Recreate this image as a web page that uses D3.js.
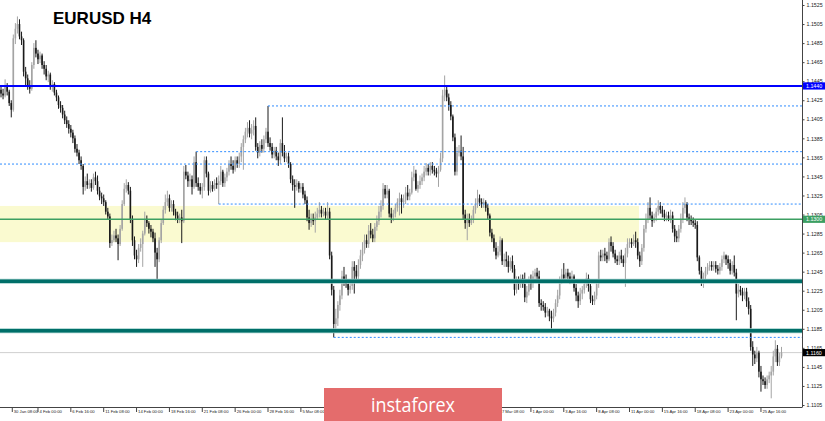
<!DOCTYPE html>
<html><head><meta charset="utf-8">
<script src="https://cdn.jsdelivr.net/npm/d3@7"></script>
<style>html,body{margin:0;padding:0;background:#fff;overflow:hidden}svg{display:block}</style>
</head><body><svg id="c" width="825" height="421"></svg>
<script>
const title = "EURUSD H4";
const opens = [1.1436,1.1432,1.1430,1.1440,1.1434,1.1422,1.1415,1.1490,1.1500,1.1505,
1.1492,1.1488,1.1455,1.1448,1.1440,1.1437,1.1462,1.1480,1.1474,1.1468,
1.1472,1.1462,1.1458,1.1450,1.1452,1.1440,1.1442,1.1433,1.1428,1.1420,
1.1417,1.1410,1.1404,1.1400,1.1395,1.1391,1.1385,1.1374,1.1370,1.1362,
1.1356,1.1334,1.1340,1.1336,1.1338,1.1333,1.1344,1.1340,1.1330,1.1324,
1.1322,1.1318,1.1308,1.1303,1.1275,1.1278,1.1283,1.1280,1.1274,1.1290,
1.1316,1.1332,1.1336,1.1330,1.1300,1.1278,1.1262,1.1258,1.1270,1.1274,
1.1285,1.1300,1.1296,1.1290,1.1287,1.1280,1.1265,1.1258,1.1278,1.1296,
1.1310,1.1318,1.1322,1.1312,1.1316,1.1308,1.1304,1.1300,1.1302,1.1298,
1.1350,1.1346,1.1340,1.1342,1.1334,1.1360,1.1338,1.1334,1.1330,1.1334,
1.1362,1.1348,1.1330,1.1336,1.1332,1.1338,1.1336,1.1340,1.1350,1.1338,
1.1344,1.1350,1.1358,1.1356,1.1352,1.1362,1.1358,1.1366,1.1376,1.1384,
1.1392,1.1396,1.1390,1.1394,1.1398,1.1376,1.1370,1.1378,1.1374,1.1384,
1.1392,1.1380,1.1376,1.1368,1.1372,1.1366,1.1362,1.1380,1.1370,1.1364,
1.1366,1.1358,1.1342,1.1336,1.1334,1.1338,1.1332,1.1334,1.1326,1.1320,
1.1302,1.1296,1.1300,1.1298,1.1302,1.1306,1.1310,1.1306,1.1308,1.1304,
1.1308,1.1262,1.1226,1.1190,1.1196,1.1210,1.1220,1.1240,1.1236,1.1232,
1.1226,1.1230,1.1250,1.1246,1.1240,1.1252,1.1262,1.1268,1.1278,1.1274,
1.1288,1.1284,1.1280,1.1292,1.1298,1.1308,1.1314,1.1332,1.1326,1.1330,
1.1306,1.1302,1.1306,1.1312,1.1318,1.1322,1.1318,1.1320,1.1328,1.1324,
1.1328,1.1344,1.1348,1.1332,1.1336,1.1340,1.1344,1.1350,1.1354,1.1350,
1.1356,1.1352,1.1350,1.1348,1.1352,1.1364,1.1430,1.1436,1.1428,1.1420,
1.1408,1.1386,1.1350,1.1370,1.1372,1.1366,1.1305,1.1296,1.1300,1.1296,
1.1300,1.1310,1.1316,1.1322,1.1318,1.1316,1.1318,1.1312,1.1304,1.1286,
1.1280,1.1270,1.1262,1.1266,1.1278,1.1256,1.1258,1.1256,1.1250,1.1256,
1.1248,1.1226,1.1236,1.1232,1.1238,1.1232,1.1218,1.1224,1.1236,1.1232,
1.1240,1.1244,1.1240,1.1212,1.1210,1.1208,1.1202,1.1204,1.1198,1.1196,
1.1202,1.1212,1.1220,1.1236,1.1242,1.1238,1.1244,1.1240,1.1236,1.1240,
1.1228,1.1220,1.1214,1.1222,1.1226,1.1232,1.1238,1.1230,1.1216,1.1214,
1.1220,1.1232,1.1262,1.1260,1.1264,1.1262,1.1258,1.1276,1.1272,1.1264,
1.1258,1.1256,1.1262,1.1258,1.1254,1.1264,1.1274,1.1276,1.1274,1.1278,
1.1276,1.1262,1.1256,1.1270,1.1290,1.1300,1.1312,1.1304,1.1298,1.1302,
1.1308,1.1314,1.1310,1.1306,1.1302,1.1304,1.1300,1.1304,1.1290,1.1282,
1.1280,1.1290,1.1300,1.1312,1.1316,1.1302,1.1300,1.1298,1.1296,1.1294,
1.1260,1.1246,1.1236,1.1240,1.1246,1.1250,1.1252,1.1250,1.1252,1.1248,
1.1246,1.1250,1.1258,1.1262,1.1258,1.1254,1.1246,1.1252,1.1244,1.1222,
1.1226,1.1224,1.1220,1.1224,1.1214,1.1206,1.1166,1.1158,1.1154,1.1160,
1.1140,1.1132,1.1130,1.1126,1.1132,1.1136,1.1140,1.1156,1.1164,1.1150,1.1156];
const highs = [1.1441,1.1437,1.1447,1.1443,1.1436,1.1425,1.1494,1.1506,1.1513,1.1510,
1.1497,1.1490,1.1460,1.1452,1.1446,1.1465,1.1485,1.1488,1.1478,1.1476,
1.1474,1.1466,1.1462,1.1456,1.1454,1.1446,1.1444,1.1436,1.1430,1.1424,
1.1420,1.1414,1.1408,1.1404,1.1399,1.1394,1.1388,1.1379,1.1373,1.1366,
1.1358,1.1345,1.1348,1.1342,1.1342,1.1348,1.1350,1.1346,1.1334,1.1328,
1.1326,1.1320,1.1312,1.1306,1.1284,1.1288,1.1290,1.1284,1.1294,1.1320,
1.1338,1.1342,1.1339,1.1334,1.1304,1.1282,1.1268,1.1274,1.1280,1.1288,
1.1308,1.1304,1.1298,1.1294,1.1290,1.1286,1.1270,1.1281,1.1300,1.1314,
1.1326,1.1330,1.1326,1.1320,1.1320,1.1311,1.1308,1.1306,1.1310,1.1356,
1.1357,1.1350,1.1348,1.1346,1.1366,1.1371,1.1344,1.1338,1.1338,1.1366,
1.1366,1.1350,1.1340,1.1340,1.1342,1.1344,1.1346,1.1356,1.1352,1.1348,
1.1354,1.1362,1.1366,1.1362,1.1366,1.1366,1.1370,1.1380,1.1388,1.1396,
1.1402,1.1404,1.1400,1.1404,1.1407,1.1380,1.1382,1.1384,1.1388,1.1396,
1.1419,1.1386,1.1380,1.1376,1.1376,1.1370,1.1384,1.1407,1.1378,1.1370,
1.1370,1.1360,1.1346,1.1342,1.1342,1.1340,1.1338,1.1338,1.1330,1.1324,
1.1310,1.1306,1.1306,1.1308,1.1312,1.1318,1.1314,1.1312,1.1312,1.1318,
1.1312,1.1266,1.1230,1.1206,1.1214,1.1226,1.1246,1.1250,1.1242,1.1236,
1.1234,1.1256,1.1256,1.1252,1.1258,1.1268,1.1276,1.1284,1.1284,1.1294,
1.1296,1.1290,1.1296,1.1304,1.1314,1.1320,1.1338,1.1336,1.1336,1.1332,
1.1312,1.1310,1.1316,1.1322,1.1328,1.1326,1.1326,1.1334,1.1336,1.1332,
1.1350,1.1356,1.1352,1.1340,1.1346,1.1348,1.1356,1.1359,1.1358,1.1360,
1.1360,1.1356,1.1354,1.1356,1.1370,1.1436,1.1451,1.1440,1.1432,1.1424,
1.1410,1.1390,1.1376,1.1378,1.1388,1.1376,1.1310,1.1306,1.1306,1.1304,
1.1314,1.1322,1.1331,1.1326,1.1322,1.1322,1.1320,1.1316,1.1306,1.1290,
1.1284,1.1276,1.1272,1.1282,1.1280,1.1264,1.1266,1.1262,1.1260,1.1262,
1.1252,1.1240,1.1240,1.1242,1.1242,1.1244,1.1230,1.1240,1.1242,1.1246,
1.1248,1.1249,1.1246,1.1216,1.1214,1.1212,1.1208,1.1206,1.1204,1.1206,
1.1216,1.1226,1.1240,1.1248,1.1254,1.1248,1.1248,1.1244,1.1246,1.1242,
1.1232,1.1224,1.1228,1.1230,1.1236,1.1244,1.1242,1.1232,1.1220,1.1224,
1.1236,1.1266,1.1268,1.1268,1.1270,1.1266,1.1280,1.1282,1.1276,1.1268,
1.1262,1.1266,1.1268,1.1262,1.1270,1.1280,1.1280,1.1280,1.1284,1.1287,
1.1280,1.1266,1.1274,1.1294,1.1306,1.1318,1.1323,1.1308,1.1306,1.1312,
1.1320,1.1318,1.1314,1.1310,1.1308,1.1308,1.1310,1.1308,1.1294,1.1288,
1.1294,1.1306,1.1318,1.1323,1.1318,1.1306,1.1304,1.1302,1.1300,1.1298,
1.1262,1.1250,1.1244,1.1250,1.1254,1.1256,1.1256,1.1256,1.1256,1.1252,
1.1254,1.1262,1.1266,1.1263,1.1262,1.1258,1.1256,1.1262,1.1248,1.1232,
1.1230,1.1228,1.1228,1.1228,1.1218,1.1210,1.1172,1.1162,1.1166,1.1162,
1.1146,1.1136,1.1134,1.1136,1.1140,1.1146,1.1162,1.1173,1.1168,1.1160,1.1166];
const lows = [1.1428,1.1426,1.1428,1.1430,1.1419,1.1407,1.1413,1.1484,1.1495,1.1489,
1.1483,1.1450,1.1441,1.1436,1.1432,1.1435,1.1458,1.1470,1.1463,1.1464,
1.1458,1.1452,1.1446,1.1444,1.1436,1.1434,1.1430,1.1424,1.1416,1.1412,
1.1406,1.1400,1.1396,1.1390,1.1386,1.1380,1.1370,1.1366,1.1358,1.1352,
1.1326,1.1330,1.1332,1.1332,1.1329,1.1331,1.1336,1.1326,1.1320,1.1316,
1.1314,1.1305,1.1300,1.1270,1.1272,1.1276,1.1276,1.1257,1.1272,1.1288,
1.1314,1.1328,1.1326,1.1296,1.1272,1.1258,1.1250,1.1254,1.1266,1.1250,
1.1283,1.1292,1.1285,1.1281,1.1276,1.1250,1.1234,1.1255,1.1275,1.1294,
1.1306,1.1314,1.1308,1.1308,1.1304,1.1299,1.1296,1.1296,1.1275,1.1296,
1.1342,1.1334,1.1334,1.1326,1.1332,1.1334,1.1330,1.1326,1.1322,1.1330,
1.1344,1.1325,1.1328,1.1329,1.1330,1.1332,1.1316,1.1336,1.1334,1.1334,
1.1340,1.1346,1.1352,1.1348,1.1350,1.1354,1.1354,1.1360,1.1352,1.1380,
1.1386,1.1386,1.1384,1.1388,1.1372,1.1364,1.1366,1.1370,1.1370,1.1380,
1.1376,1.1372,1.1364,1.1364,1.1362,1.1356,1.1358,1.1366,1.1360,1.1360,
1.1354,1.1338,1.1330,1.1312,1.1330,1.1328,1.1328,1.1322,1.1316,1.1298,
1.1289,1.1292,1.1294,1.1286,1.1300,1.1302,1.1302,1.1303,1.1300,1.1300,
1.1258,1.1220,1.1176,1.1182,1.1188,1.1204,1.1216,1.1230,1.1228,1.1220,
1.1222,1.1226,1.1222,1.1236,1.1236,1.1248,1.1256,1.1264,1.1270,1.1270,
1.1280,1.1276,1.1276,1.1288,1.1294,1.1302,1.1310,1.1322,1.1322,1.1302,
1.1296,1.1298,1.1302,1.1308,1.1304,1.1306,1.1312,1.1316,1.1320,1.1320,
1.1326,1.1340,1.1330,1.1328,1.1332,1.1336,1.1340,1.1346,1.1346,1.1346,
1.1348,1.1346,1.1344,1.1334,1.1350,1.1360,1.1424,1.1424,1.1414,1.1404,
1.1382,1.1346,1.1346,1.1366,1.1362,1.1300,1.1290,1.1278,1.1292,1.1294,
1.1296,1.1306,1.1312,1.1314,1.1312,1.1312,1.1308,1.1300,1.1282,1.1276,
1.1266,1.1258,1.1260,1.1262,1.1252,1.1250,1.1250,1.1244,1.1246,1.1244,
1.1220,1.1222,1.1226,1.1228,1.1228,1.1213,1.1212,1.1220,1.1226,1.1228,
1.1236,1.1236,1.1208,1.1204,1.1204,1.1197,1.1198,1.1193,1.1184,1.1192,
1.1198,1.1208,1.1216,1.1232,1.1234,1.1234,1.1236,1.1232,1.1232,1.1224,
1.1214,1.1207,1.1210,1.1216,1.1222,1.1228,1.1224,1.1212,1.1210,1.1210,
1.1216,1.1228,1.1256,1.1256,1.1256,1.1254,1.1256,1.1266,1.1260,1.1254,
1.1252,1.1252,1.1254,1.1250,1.1229,1.1260,1.1270,1.1270,1.1272,1.1270,
1.1258,1.1250,1.1252,1.1266,1.1286,1.1296,1.1300,1.1292,1.1296,1.1298,
1.1304,1.1306,1.1302,1.1298,1.1298,1.1298,1.1296,1.1286,1.1276,1.1276,
1.1276,1.1286,1.1296,1.1306,1.1298,1.1294,1.1294,1.1292,1.1290,1.1256,
1.1242,1.1230,1.1228,1.1236,1.1242,1.1246,1.1246,1.1246,1.1244,1.1242,
1.1242,1.1246,1.1254,1.1252,1.1248,1.1242,1.1242,1.1240,1.1194,1.1218,
1.1220,1.1214,1.1216,1.1208,1.1200,1.1162,1.1146,1.1148,1.1150,1.1134,
1.1119,1.1126,1.1122,1.1122,1.1128,1.1112,1.1136,1.1150,1.1146,1.1146,1.1154];
const closes = [1.1432,1.1430,1.1440,1.1434,1.1422,1.1415,1.1490,1.1500,1.1505,1.1492,
1.1488,1.1455,1.1448,1.1440,1.1437,1.1462,1.1480,1.1474,1.1468,1.1472,
1.1462,1.1458,1.1450,1.1452,1.1440,1.1442,1.1433,1.1428,1.1420,1.1417,
1.1410,1.1404,1.1400,1.1395,1.1391,1.1385,1.1374,1.1370,1.1362,1.1356,
1.1334,1.1340,1.1336,1.1338,1.1333,1.1344,1.1340,1.1330,1.1324,1.1322,
1.1318,1.1308,1.1303,1.1275,1.1278,1.1283,1.1280,1.1274,1.1290,1.1316,
1.1332,1.1336,1.1330,1.1300,1.1278,1.1262,1.1258,1.1270,1.1274,1.1285,
1.1300,1.1296,1.1290,1.1287,1.1280,1.1265,1.1258,1.1278,1.1296,1.1310,
1.1318,1.1322,1.1312,1.1316,1.1308,1.1304,1.1300,1.1302,1.1298,1.1350,
1.1346,1.1340,1.1342,1.1334,1.1360,1.1338,1.1334,1.1330,1.1334,1.1362,
1.1348,1.1330,1.1336,1.1332,1.1338,1.1336,1.1340,1.1350,1.1338,1.1344,
1.1350,1.1358,1.1356,1.1352,1.1362,1.1358,1.1366,1.1376,1.1384,1.1392,
1.1396,1.1390,1.1394,1.1398,1.1376,1.1370,1.1378,1.1374,1.1384,1.1392,
1.1380,1.1376,1.1368,1.1372,1.1366,1.1362,1.1380,1.1370,1.1364,1.1366,
1.1358,1.1342,1.1336,1.1334,1.1338,1.1332,1.1334,1.1326,1.1320,1.1302,
1.1296,1.1300,1.1298,1.1302,1.1306,1.1310,1.1306,1.1308,1.1304,1.1308,
1.1262,1.1226,1.1190,1.1196,1.1210,1.1220,1.1240,1.1236,1.1232,1.1226,
1.1230,1.1250,1.1246,1.1240,1.1252,1.1262,1.1268,1.1278,1.1274,1.1288,
1.1284,1.1280,1.1292,1.1298,1.1308,1.1314,1.1332,1.1326,1.1330,1.1306,
1.1302,1.1306,1.1312,1.1318,1.1322,1.1318,1.1320,1.1328,1.1324,1.1328,
1.1344,1.1348,1.1332,1.1336,1.1340,1.1344,1.1350,1.1354,1.1350,1.1356,
1.1352,1.1350,1.1348,1.1352,1.1364,1.1430,1.1436,1.1428,1.1420,1.1408,
1.1386,1.1350,1.1370,1.1372,1.1366,1.1305,1.1296,1.1300,1.1296,1.1300,
1.1310,1.1316,1.1322,1.1318,1.1316,1.1318,1.1312,1.1304,1.1286,1.1280,
1.1270,1.1262,1.1266,1.1278,1.1256,1.1258,1.1256,1.1250,1.1256,1.1248,
1.1226,1.1236,1.1232,1.1238,1.1232,1.1218,1.1224,1.1236,1.1232,1.1240,
1.1244,1.1240,1.1212,1.1210,1.1208,1.1202,1.1204,1.1198,1.1196,1.1202,
1.1212,1.1220,1.1236,1.1242,1.1238,1.1244,1.1240,1.1236,1.1240,1.1228,
1.1220,1.1214,1.1222,1.1226,1.1232,1.1238,1.1230,1.1216,1.1214,1.1220,
1.1232,1.1262,1.1260,1.1264,1.1262,1.1258,1.1276,1.1272,1.1264,1.1258,
1.1256,1.1262,1.1258,1.1254,1.1264,1.1274,1.1276,1.1274,1.1278,1.1276,
1.1262,1.1256,1.1270,1.1290,1.1300,1.1312,1.1304,1.1298,1.1302,1.1308,
1.1314,1.1310,1.1306,1.1302,1.1304,1.1300,1.1304,1.1290,1.1282,1.1280,
1.1290,1.1300,1.1312,1.1316,1.1302,1.1300,1.1298,1.1296,1.1294,1.1260,
1.1246,1.1236,1.1240,1.1246,1.1250,1.1252,1.1250,1.1252,1.1248,1.1246,
1.1250,1.1258,1.1262,1.1258,1.1254,1.1246,1.1252,1.1244,1.1222,1.1226,
1.1224,1.1220,1.1224,1.1214,1.1206,1.1166,1.1158,1.1154,1.1160,1.1140,
1.1132,1.1130,1.1126,1.1132,1.1136,1.1140,1.1156,1.1164,1.1150,1.1156,1.1160];

const priceTicks = [1.1525,1.1505,1.1485,1.1465,1.1445,1.1425,1.1405,1.1385,1.1365,1.1345,1.1325,
1.1305,1.1285,1.1265,1.1245,1.1225,1.1205,1.1185,1.1165,1.1145,1.1125,1.1105];
const timeLabels = ["30 Jan 08:00","4 Feb 00:00","6 Feb 16:00","11 Feb 08:00","14 Feb 00:00","18 Feb 16:00",
"21 Feb 08:00","26 Feb 00:00","28 Feb 16:00","5 Mar 08:00","8 Mar 00:00","12 Mar 16:00","15 Mar 08:00",
"20 Mar 00:00","22 Mar 16:00","27 Mar 08:00","1 Apr 00:00","3 Apr 16:00","8 Apr 08:00","11 Apr 00:00",
"15 Apr 16:00","18 Apr 08:00","23 Apr 00:00","25 Apr 16:00"];
const timeLabelBars = [5.5,18,34,50,66,82,98,114,130,146,162,178,194,210,226,242,258,274,290,306,322,338,354,370];

const resistanceLevel = 1.1440;
const pivotLevel = 1.1300;
const supportLevels = [1.1235, 1.1183];
const dottedLevels = [1.1419, 1.1371, 1.1358, 1.1316, 1.1176];
const dottedFromBar = [130, 95, -1, 106, 162];
const zoneTop = 1.1314, zoneBottom = 1.1276, zoneEndBar = 310.6;
const lastPrice = 1.1160;
const brand = "instaforex";

const svg = d3.select("#c");
const n = closes.length;
const x = d3.scaleLinear().domain([0, 380]).range([1, 781.5]);
const y = d3.scaleLinear().domain([1.1105, 1.1525]).range([405, 5]);
const plotRight = 802, plotBottom = 407;
const logo = {x0: 324, x1: 502, y0: 388};

svg.append("rect").attr("width",825).attr("height",421).attr("fill","#fff");

// yellow zone
svg.append("rect").attr("x",0).attr("y",y(zoneTop)).attr("width",x(zoneEndBar))
  .attr("height",y(zoneBottom)-y(zoneTop)).attr("fill","#fafad0");

// last price line
svg.append("line").attr("x1",0).attr("x2",plotRight).attr("y1",y(lastPrice)).attr("y2",y(lastPrice))
  .attr("stroke","#cfcfcf").attr("stroke-width",1);

// candles
const bars = svg.append("g");
d3.range(n).forEach(i => {
  const bull = closes[i] >= opens[i];
  const col = bull ? "#a4a4a4" : "#1a1a1a";
  const cx = x(i);
  bars.append("line").attr("x1",cx).attr("x2",cx).attr("y1",y(highs[i])).attr("y2",y(lows[i]))
    .attr("stroke",col).attr("stroke-width",1);
  const top = y(Math.max(opens[i],closes[i])), bot = y(Math.min(opens[i],closes[i]));
  bars.append("rect").attr("x",cx-0.8).attr("width",1.6).attr("y",top).attr("height",Math.max(0.8,bot-top))
    .attr("fill",col);
});

// dotted levels
dottedLevels.forEach((v,k) => {
  svg.append("line").attr("x1",Math.max(0,x(dottedFromBar[k]))).attr("x2",plotRight)
    .attr("y1",y(v)).attr("y2",y(v)).attr("stroke","#2f8cff").attr("stroke-width",1)
    .attr("stroke-dasharray","2,2");
});

// solid levels
svg.append("line").attr("x1",0).attr("x2",plotRight).attr("y1",y(resistanceLevel)).attr("y2",y(resistanceLevel))
  .attr("stroke","#0000ff").attr("stroke-width",2);
svg.append("line").attr("x1",0).attr("x2",plotRight).attr("y1",y(pivotLevel)).attr("y2",y(pivotLevel))
  .attr("stroke","#3c9f62").attr("stroke-width",1.5);
supportLevels.forEach(v => {
  svg.append("line").attr("x1",0).attr("x2",plotRight).attr("y1",y(v)).attr("y2",y(v))
    .attr("stroke","#9fcfcb").attr("stroke-width",5);
  svg.append("line").attr("x1",0).attr("x2",plotRight).attr("y1",y(v)).attr("y2",y(v))
    .attr("stroke","#006f69").attr("stroke-width",3.4);
});

// axes frame
svg.append("line").attr("x1",plotRight+0.5).attr("x2",plotRight+0.5).attr("y1",0).attr("y2",plotBottom)
  .attr("stroke","#444").attr("stroke-width",1);
svg.append("line").attr("x1",0).attr("x2",plotRight+0.5).attr("y1",plotBottom+0.5).attr("y2",plotBottom+0.5)
  .attr("stroke","#444").attr("stroke-width",1);

// y axis
const yAxis = d3.axisRight(y).tickValues(priceTicks).tickFormat(d3.format(".4f")).tickSize(2).tickPadding(2);
const gy = svg.append("g").attr("transform",`translate(${plotRight+0.5},0)`).call(yAxis);
gy.select(".domain").remove();
gy.selectAll("line").attr("stroke","#444");
gy.selectAll("text").attr("font-family","Liberation Sans, Arial, sans-serif").attr("font-size",5.3).attr("fill","#222");

// x axis labels (those lying under the logo are hidden there, as in the picture)
const gx = svg.append("g");
timeLabels.forEach((t,k) => {
  const px = x(timeLabelBars[k]);
  gx.append("line").attr("x1",px).attr("x2",px).attr("y1",plotBottom+1).attr("y2",plotBottom+5).attr("stroke","#444");
  if (px > logo.x0 - 8 && px < logo.x1 - 6) return;
  gx.append("text").attr("x",px+1.5).attr("y",plotBottom+6).text(t)
    .attr("font-family","Liberation Sans, Arial, sans-serif").attr("font-size",4.2).attr("fill","#222");
});

// price boxes
function priceBox(v, bg){
  const g = svg.append("g");
  g.append("rect").attr("x",plotRight+1).attr("y",y(v)-3.6).attr("width",22).attr("height",7.2).attr("fill",bg);
  g.append("text").attr("x",plotRight+4).attr("y",y(v)+1.9).text(d3.format(".4f")(v))
    .attr("font-family","Liberation Sans, Arial, sans-serif").attr("font-size",5.3).attr("fill","#fff");
}
priceBox(resistanceLevel, "#0000ff");
priceBox(pivotLevel, "#3c9f62");
priceBox(lastPrice, "#000");

// title
svg.append("text").attr("x",53).attr("y",23.5).text(title)
  .attr("font-family","Liberation Sans, Arial, sans-serif").attr("font-weight","bold").attr("font-size",17).attr("fill","#000");

// brand
svg.append("rect").attr("x",logo.x0).attr("y",logo.y0).attr("width",logo.x1-logo.x0).attr("height",421-logo.y0).attr("fill","#e46c6c");
svg.append("text").attr("x",(logo.x0+logo.x1)/2).attr("y",411.5).attr("text-anchor","middle").text(brand)
  .attr("font-family","Open Sans, Noto Sans, sans-serif").attr("font-size",20).attr("fill","#fff")
  .attr("textLength",84).attr("lengthAdjust","spacingAndGlyphs");
</script></body></html>
